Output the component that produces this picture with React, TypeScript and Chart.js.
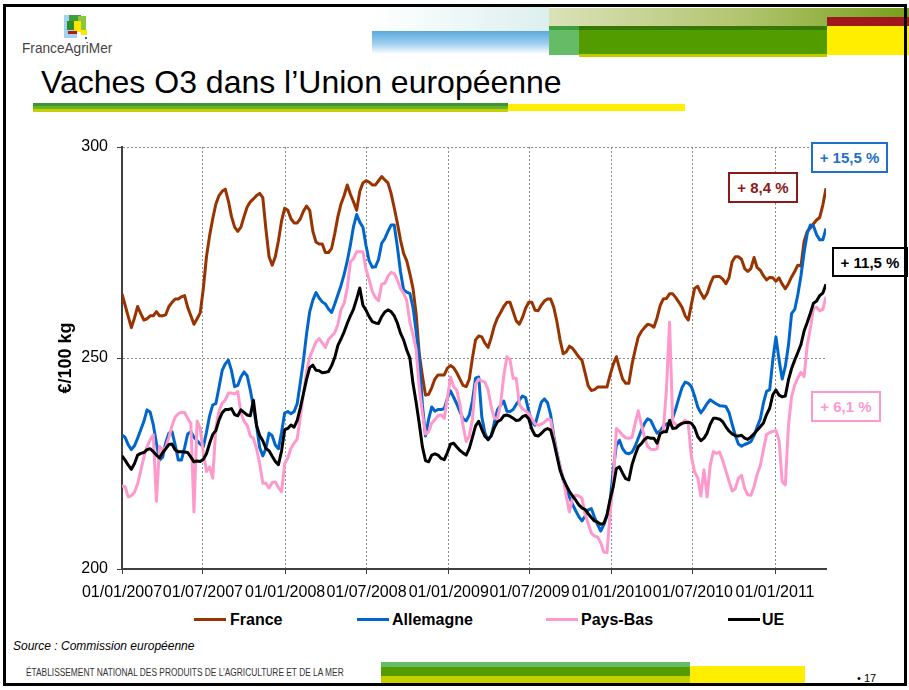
import React, { useEffect, useRef } from "react";
import { Chart, registerables } from "chart.js";

Chart.register(...registerables);

// X positions: days since 01/01/2007 (weekly observations)
const tickDays = [0, 181, 365, 547, 731, 912, 1096, 1277, 1461];
const tickLabels = [
  "01/01/2007", "01/07/2007", "01/01/2008", "01/07/2008", "01/01/2009",
  "01/07/2009", "01/01/2010", "01/07/2010", "01/01/2011",
];
const yTicks = [200, 250, 300];

const france = [
  265.2, 262.5, 259.8, 257.2, 259.5, 262.2, 260.5, 259, 259.3, 260,
  260, 261, 260, 260, 260.3, 262.2, 263.2, 264, 264, 264.5,
  264.8, 262, 260, 258, 259.3, 260.7, 266.5, 274, 279, 283,
  286.5, 288.5, 289.5, 290, 287.2, 283.5, 281, 280, 281, 283.5,
  285.8, 287, 287.7, 288.5, 289, 288, 280.5, 274, 272, 274,
  277.8, 282.5, 285.5, 285, 283, 282, 282, 283, 284.8, 286,
  285, 280, 277.5, 277, 277, 275, 275, 276, 279.5, 283.5,
  286.5, 288.5, 291, 288.8, 287, 285, 289.5, 291.5, 292, 291.7,
  291, 291, 292, 293, 292.2, 291.5, 289, 285.6, 282, 278,
  274.8, 273, 270, 266.5, 260.5, 251, 245.8, 241.2, 241.4, 243,
  245, 246, 246, 246, 247.6, 248.2, 247.7, 246.5, 245, 243.5,
  243.2, 245, 250, 254.3, 255.2, 255, 253.5, 252.5, 254.8, 257.6,
  259.5, 260.8, 262.2, 263.2, 263.2, 261, 258.8, 258, 259.6, 261.8,
  263.2, 263.2, 261.3, 261.2, 262.5, 263.5, 264, 264, 262, 258.6,
  254.3, 251, 251.5, 252.8, 252.3, 251.3, 250.2, 249.5, 246.5, 243.4,
  242.3, 242.5, 243.1, 243.1, 243.1, 243.1, 246, 248.5, 250.3, 247.5,
  245, 244, 244, 248.5, 251.9, 255, 256.3, 257.2, 258, 257.8,
  257.3, 259.5, 262.4, 264, 264.1, 265.2, 265.2, 264.3, 263.2, 262,
  260, 259, 262.8, 266.5, 267, 265.4, 264.1, 265.3, 267.5, 269.2,
  269.3, 269.3, 268.7, 267.6, 269, 272.8, 274, 274, 273.4, 271.2,
  270.5, 271.2, 273.8, 271.4, 270.8, 269.5, 268.5, 269.1, 269, 268.2,
  269, 267.5, 266.4, 267.6, 269.2, 270.5, 272, 271.8, 277.6, 280,
  280.8, 281.8, 282.7, 283.3, 286.3, 290.2,
];

const allemagne = [
  231.8, 231.2, 229.4, 228.3, 229.2, 231, 233, 235, 237.7, 237.2,
  234.2, 229.8, 225.8, 226.5, 230, 232.2, 232.5, 229.4, 225.8, 225.8,
  228.7, 232, 232.5, 231.2, 230.4, 229.6, 229, 232.4, 236.3, 238.9,
  239.2, 243, 247, 248.6, 249.5, 247, 243.2, 243.5, 245.5, 246.7,
  245.8, 242.4, 238.4, 234, 228.8, 226.8, 228.6, 232.2, 231.6, 229.4,
  228.5, 232.4, 237, 237.3, 236.8, 237.3, 239.2, 244.2, 249.5, 255.8,
  261, 263.7, 265.5, 264.2, 263.3, 262.8, 261.6, 260.8, 262.8, 265,
  267.2, 269.8, 273, 276.8, 281.2, 284, 282.2, 281, 276.6, 273,
  271.5, 271.6, 273.4, 277.2, 278.3, 280, 281.5, 281.5, 276.4, 270.5,
  266.2, 265.6, 265.3, 262, 256.3, 250, 239, 231.5, 235.5, 238.4,
  237.4, 237.8, 237.8, 238, 240.5, 242.2, 240.7, 239.1, 237.3, 235.6,
  235.1, 236.5, 239.8, 245.2, 245.5, 236, 232.2, 230.6, 231.5, 234.7,
  237.7, 238.8, 239.8, 237.4, 237.3, 237.8, 239, 240, 241, 240.6,
  237.4, 234.8, 234.1, 236.8, 239.5, 240.3, 239.4, 236.5, 231.5, 227.5,
  224.2, 221.1, 219.2, 217, 215.3, 213.8, 212.4, 211.4, 212.5, 214,
  214.3, 212.3, 210.5, 209, 210.5, 212.6, 216, 223.5, 229.3, 230.5,
  228.5, 227.5, 227.3, 227.7, 229.1, 231, 232.9, 234.5, 235.6, 235.2,
  233.6, 232.2, 232.7, 233.8, 234.4, 234.3, 235.8, 238, 240.6, 243,
  244.3, 244, 243.2, 241, 238.4, 237, 238, 239.2, 240.1, 239.6,
  239.1, 238.7, 238.6, 238.5, 237.1, 234.3, 231.7, 229.6, 229.1, 229.5,
  229.8, 230.2, 231.6, 233.7, 235.5, 239.3, 242.1, 242.5, 249.5, 255,
  249.5, 245, 248, 253, 260.5, 261.5, 265, 269.5, 275, 279.5,
  281.5, 281.3, 279.2, 278, 278, 280.7,
];

const paysBas = [
  219.7, 219.5, 217.1, 217.4, 218.2, 220.2, 223.3, 226.5, 229, 230.6,
  231.8, 216, 229, 228.3, 228.8, 231.2, 234, 236, 236.8, 237.1,
  237.1, 235.7, 234.5, 213.5, 235.1, 233.3, 227.5, 223.1, 224.2, 221.5,
  233.6, 237.4, 239.3, 240, 241.7, 241.7, 241.5, 242, 237, 235,
  234.1, 231.5, 231, 228.5, 225, 220.3, 220.3, 219.2, 220.5, 220.6,
  219.3, 218.3, 225, 226.3, 228.6, 229.8, 230.8, 236.1, 241.6, 246.7,
  250.2, 252, 253.8, 254.6, 253.6, 252.5, 254.4, 255.2, 256, 258,
  261.5, 263, 266.6, 272.8, 273.6, 275.2, 275.2, 275.2, 271, 268.5,
  265.8, 264.3, 263.6, 267.5, 267.7, 269.4, 270.3, 270, 268.5, 266.5,
  265.3, 263.6, 258.5, 255.5, 252, 243, 237, 232, 232.5, 234.6,
  235.4, 236.3, 236.5, 235.7, 240.5, 245.5, 243.2, 242.4, 239, 234,
  230.2, 231.5, 235.5, 243.8, 245, 244.6, 244.3, 242.5, 238.5, 235.7,
  235.7, 239, 245.7, 250.3, 249.6, 245.2, 245.2, 239, 237.9, 237.5,
  236.8, 235.6, 234.4, 234.1, 234.3, 234.8, 235.5, 235.3, 231, 227.3,
  224.3, 221.5, 217.1, 213.5, 216.8, 217.5, 217.3, 216.8, 213, 210.8,
  208.5, 207.8, 207.6, 206.2, 204, 203.9, 213.2, 220.5, 233.3, 232.6,
  231.7, 231.1, 231, 231.2, 234.5, 237.5, 234.2, 231.2, 229, 228.4,
  228.3, 228.5, 232.2, 232.8, 242.4, 258.5, 235, 234.2, 233.9, 234.5,
  235.3, 234.2, 226.5, 223, 221.6, 217.3, 223.5, 217.1, 224.6, 227.8,
  227.4, 227.7, 225.7, 223.2, 220.8, 218.5, 219, 221.5, 222.2, 219.1,
  217.6, 217.5, 219.5, 222.5, 224.5, 228.2, 231.9, 232.3, 232.6, 232.8,
  230.5, 220.7, 219.9, 234, 240.8, 243.6, 245.3, 246.6, 245.6, 253,
  257, 261.8, 262, 261.2, 261.5, 264.5,
];

const ue = [
  226.8, 225.8, 224.6, 223.6, 225, 227, 227.4, 227.6, 228.3, 228.5,
  227.8, 227, 226.3, 227.6, 228.5, 229.5, 229.6, 228.2, 227.8, 227.8,
  227.7, 227.6, 226.5, 225.4, 225.6, 225.5, 226, 227.3, 229.8, 231.9,
  232.8, 235.3, 237, 237.8, 237.8, 238, 236.6, 236.3, 237.7, 237.1,
  236.5, 236.3, 240, 234, 231.6, 230.4, 228.6, 228, 226.7, 225.5,
  224.7, 228, 233, 233.3, 234.1, 233.6, 235.2, 238.2, 241.6, 245,
  247.7, 248.3, 247.1, 247, 246.5, 246.6, 246.8, 248.2, 250.1, 253,
  254.5, 256.2, 258.2, 260, 261.6, 264, 266.6, 262.5, 261.3, 259.8,
  258.6, 258.3, 258.2, 259.8, 260.9, 261.4, 261, 260, 258.3, 255.9,
  254.3, 251.9, 250, 244, 239.5, 234.5, 229, 225.7, 225.4, 227,
  227.3, 227, 226.2, 225.9, 227.6, 229.6, 229.8, 228.9, 228.1, 227.5,
  227, 228.6, 231.2, 233.9, 235, 233.1, 231.4, 230.7, 231.6, 233.5,
  234.9, 235.3, 236.3, 236.5, 236.2, 235.7, 235.2, 235.3, 236.1, 236.4,
  235.6, 233.1, 231.7, 231.5, 232.1, 232.9, 233.3, 232.9, 230.1, 226.8,
  223.4, 221.4, 219.8, 218.4, 217.3, 216.3, 215.2, 214.5, 214.1, 213.1,
  212.2, 211.4, 211.1, 210.6, 210.8, 212.8, 216.5, 219.5, 223.8, 224.2,
  222.7, 221.4, 221.1, 224.7, 227, 229, 229.7, 230.7, 231.2, 231,
  231, 229.8, 232.1, 232.5, 232.5, 235.2, 233.3, 233.4, 234.1, 234.5,
  234.7, 234.8, 234.5, 233.5, 231.4, 230.4, 231, 232.2, 234.3, 235.7,
  235.7, 235.5, 234.9, 233.7, 232.7, 232, 231.6, 231.5, 231.7, 231,
  230.7, 231.3, 232, 232.9, 233.7, 234.6, 236.6, 238.1, 241.3, 242.4,
  241.2, 240.8, 241, 244.8, 247.5, 249.5, 251.3, 253.2, 256.4, 258.4,
  260.6, 263, 263.5, 264.8, 265.4, 267.5,
];

const seriesNames = ["France", "Allemagne", "Pays-Bas", "UE"];
const seriesColors = ["#993300", "#0066cc", "#ff99cc", "#000000"];

const weekDays = france.map((_, i) => i * 7);

const FONT = "'Liberation Sans', Arial, Helvetica, sans-serif";

function ChartCanvas() {
  const ref = useRef<HTMLCanvasElement | null>(null);
  useEffect(() => {
    const canvas = ref.current;
    if (!canvas) return;
    Chart.defaults.font.family = FONT;
    const seriesData = [france, allemagne, paysBas, ue];
    const chart = new Chart(canvas, {
      type: "line",
      data: {
        labels: weekDays,
        datasets: seriesData.map((d, i) => ({
          label: seriesNames[i],
          data: d,
          borderColor: seriesColors[i],
          backgroundColor: seriesColors[i],
          borderWidth: 3,
          pointRadius: 0,
          tension: 0,
          fill: false,
          borderJoinStyle: "round" as const,
          order: 4 - i,
        })),
      },
      options: {
        animation: false,
        responsive: false,
        devicePixelRatio: 1,
        events: [],
        layout: { padding: { left: 40, right: 83, top: 27, bottom: 0 } },
        plugins: {
          legend: { display: false },
          tooltip: { enabled: false },
        },
        scales: {
          x: {
            type: "linear",
            min: 0,
            max: weekDays[weekDays.length - 1],
            afterBuildTicks: (s: any) => {
              s.ticks = tickDays.map((v) => ({ value: v }));
            },
            afterFit: (s: any) => {
              s.height = 41;
            },
            ticks: {
              autoSkip: false,
              maxRotation: 0,
              minRotation: 0,
              padding: 9,
              color: "#000",
              font: { size: 16, family: FONT },
              callback: (v: any) => {
                const i = tickDays.indexOf(Number(v));
                return i >= 0 ? tickLabels[i] : "";
              },
            },
            grid: {
              color: (ctx: any) =>
                ctx.tick && ctx.tick.value === 0 ? "rgba(0,0,0,0)" : "#8a8a8a",
              lineWidth: 1,
              tickLength: 5,
              tickColor: "#404040",
              tickWidth: 1,
            },
            border: { display: true, color: "#404040", width: 2, dash: [2, 2] },
          },
          y: {
            min: 200,
            max: 300,
            afterBuildTicks: (s: any) => {
              s.ticks = yTicks.map((v) => ({ value: v }));
            },
            afterFit: (s: any) => {
              s.width = 82;
            },
            ticks: {
              padding: 9,
              color: "#000",
              font: { size: 16, family: FONT },
            },
            grid: {
              color: (ctx: any) =>
                ctx.tick && ctx.tick.value === 200 ? "rgba(0,0,0,0)" : "#8a8a8a",
              lineWidth: 1,
              tickLength: 5,
              tickColor: "#404040",
              tickWidth: 1,
            },
            border: { display: true, color: "#404040", width: 2, dash: [2, 2] },
            title: {
              display: true,
              text: "€/100 kg",
              color: "#000",
              font: { size: 18, weight: "bold", family: FONT },
              padding: { top: 15, bottom: 0 },
            },
          },
        },
      },
    } as any);
    return () => chart.destroy();
  }, []);
  return (
    <canvas
      ref={ref}
      width={909}
      height={490}
      style={{ position: "absolute", left: 0, top: 120, width: 909, height: 490, zIndex: 1 }}
    />
  );
}

const abs = (s: React.CSSProperties): React.CSSProperties => ({ position: "absolute", ...s });

function Box(props: { text: string; color: string; left: number; top: number; width: number; height: number }) {
  return (
    <div
      style={abs({
        left: props.left,
        top: props.top,
        width: props.width,
        height: props.height,
        boxSizing: "border-box",
        border: `2px solid ${props.color}`,
        background: "#fff",
        color: props.color,
        fontFamily: FONT,
        fontWeight: "bold",
        fontSize: 15,
        display: "flex",
        alignItems: "center",
        justifyContent: "center",
        whiteSpace: "nowrap",
        zIndex: 3,
      })}
    >
      {props.text}
    </div>
  );
}

export default function App() {
  const legendPos = [
    { line: 194, text: 230 },
    { line: 357, text: 392 },
    { line: 546, text: 581 },
    { line: 728, text: 762 },
  ];
  return (
    <div
      style={abs({
        left: 0,
        top: 0,
        width: 909,
        height: 690,
        background: "#fff",
        overflow: "hidden",
        fontFamily: FONT,
      })}
    >
      {/* header decorations */}
      <div style={abs({ left: 372, top: 7, width: 177, height: 24, background: "linear-gradient(to right, rgba(255,255,255,0), #dcefee)" })} />
      <div style={abs({ left: 372, top: 31, width: 177, height: 23, background: "linear-gradient(to bottom, #5aa8de, #9fcff0 55%, #ffffff)" })} />
      <div style={abs({ left: 549, top: 8, width: 360, height: 19, background: "linear-gradient(to right, #dbe2b8, #b0c46c 55%, #76a01a)" })} />
      <div style={abs({ left: 549, top: 26, width: 30, height: 29, background: "linear-gradient(to bottom, #3f9f3f 0 15%, #66bb66 15%)" })} />
      <div style={abs({ left: 579, top: 26, width: 248, height: 29, background: "linear-gradient(to bottom, #367800 0 15%, #529c00 15%)" })} />
      <div style={abs({ left: 579, top: 54, width: 248, height: 3, background: "#c4cc00" })} />
      <div style={abs({ left: 827, top: 17, width: 82, height: 9, background: "#a0161e" })} />
      <div style={abs({ left: 827, top: 26, width: 82, height: 29, background: "#ffee00" })} />

      {/* logo */}
      <div style={abs({ left: 64, top: 15, width: 13, height: 23, background: "#a3d3ee" })} />
      <div style={abs({ left: 69, top: 15, width: 12, height: 8, background: "#3aa13a" })} />
      <div style={abs({ left: 78, top: 16, width: 8, height: 15, background: "#8cc63f" })} />
      <div style={abs({ left: 67, top: 21, width: 7, height: 9, background: "#2e8b2e" })} />
      <div style={abs({ left: 74, top: 21, width: 7, height: 11, background: "#ffe600" })} />
      <div style={abs({ left: 68, top: 31, width: 9, height: 3, background: "#b01c1c" })} />
      <div style={abs({ left: 81, top: 30, width: 6, height: 5, background: "#ffe600" })} />
      <div style={abs({ left: 85, top: 37, width: 2, height: 2, background: "#2a6a9a" })} />
      <div
        style={abs({
          left: 22,
          top: 40,
          fontSize: 15,
          lineHeight: "15px",
          color: "#444",
          whiteSpace: "nowrap",
          transform: "scaleX(0.91)",
          transformOrigin: "left top",
        })}
      >
        FranceAgriMer
      </div>

      {/* title */}
      <div style={abs({ left: 41, top: 66, fontSize: 32, lineHeight: "32px", color: "#000", whiteSpace: "nowrap" })}>
        Vaches O3 dans l’Union européenne
      </div>
      <div style={abs({ left: 33, top: 103, width: 475, height: 9, background: "linear-gradient(to bottom, #3c9632 0 30%, #6cb02c 30% 62%, #c4d000 62% 100%)" })} />
      <div style={abs({ left: 508, top: 104, width: 177, height: 7, background: "#ffee00" })} />

      <ChartCanvas />

      {/* annotation boxes */}
      <Box text="+ 15,5 %" color="#1f6fcb" left={811} top={142} width={77} height={31} />
      <Box text="+ 8,4 %" color="#8b1a1a" left={728} top={172} width={70} height={31} />
      <Box text="+ 11,5 %" color="#000000" left={832} top={247} width={76} height={30} />
      <Box text="+ 6,1 %" color="#ff99cc" left={811} top={391} width={70} height={31} />

      {/* legend */}
      {seriesNames.map((name, i) => (
        <React.Fragment key={name}>
          <div style={abs({ left: legendPos[i].line, top: 618, width: 32, height: 3, background: seriesColors[i], zIndex: 2 })} />
          <div
            style={abs({
              left: legendPos[i].text,
              top: 612,
              fontSize: 16,
              lineHeight: "16px",
              fontWeight: "bold",
              color: "#000",
              whiteSpace: "nowrap",
              zIndex: 2,
            })}
          >
            {name}
          </div>
        </React.Fragment>
      ))}

      {/* source & footer */}
      <div style={abs({ left: 13, top: 640, fontSize: 12, lineHeight: "12px", fontStyle: "italic", color: "#000", whiteSpace: "nowrap" })}>
        Source : Commission européenne
      </div>
      <div
        style={abs({
          left: 26,
          top: 668,
          fontSize: 10,
          lineHeight: "10px",
          color: "#333",
          whiteSpace: "nowrap",
          transform: "scaleX(0.835)",
          transformOrigin: "left top",
        })}
      >
        ÉTABLISSEMENT NATIONAL DES PRODUITS DE L’AGRICULTURE ET DE LA MER
      </div>
      <div style={abs({ left: 381, top: 662, width: 309, height: 24, background: "linear-gradient(to bottom, #66bb66 0 20%, #529c00 20% 58%, #c4d000 58%)" })} />
      <div style={abs({ left: 690, top: 666, width: 115, height: 20, background: "#ffee00" })} />
      <div style={abs({ left: 857, top: 673, fontSize: 11, lineHeight: "11px", color: "#000", whiteSpace: "nowrap" })}>
        • 17
      </div>

      {/* slide frame */}
      <div
        style={abs({
          left: 3,
          top: 4,
          width: 904,
          height: 682,
          boxSizing: "border-box",
          border: "3px solid #000",
          zIndex: 5,
          pointerEvents: "none",
        })}
      />
    </div>
  );
}
